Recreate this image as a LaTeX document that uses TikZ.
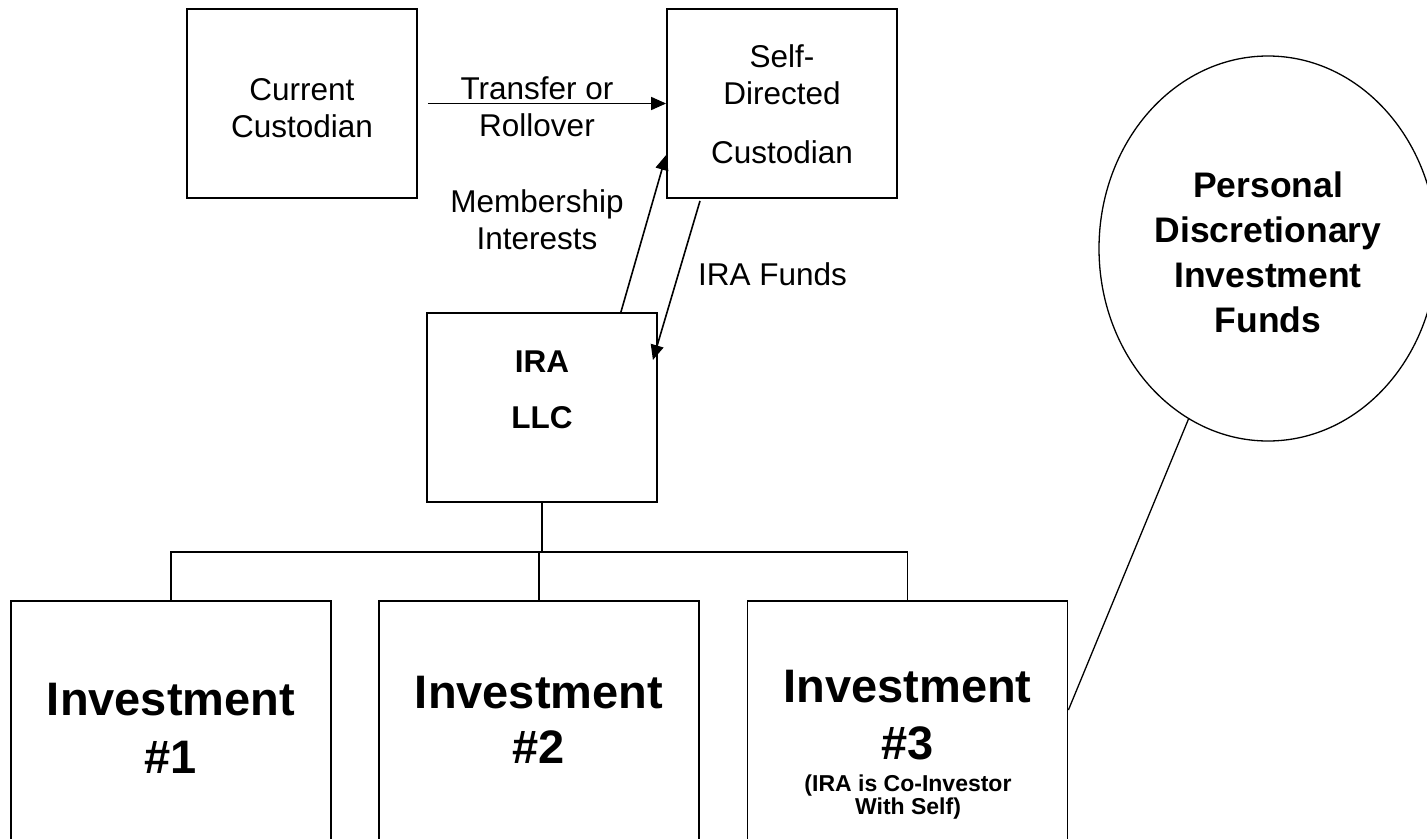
\documentclass[tikz,border=0pt]{standalone}
\usepackage{fontspec}
\setmainfont{Liberation Sans}
\usetikzlibrary{arrows.meta,shapes.geometric,calc}
\begin{document}
\begin{tikzpicture}[x=1pt,y=-1pt,
  box/.style={draw,line width=1.8pt,inner sep=0pt,align=center,rectangle},
  reg/.style={font=\fontsize{31.5}{37}\selectfont},
  bld/.style={font=\fontsize{31.5}{37}\selectfont\bfseries},
  inv/.style={font=\fontsize{47}{54}\selectfont\bfseries},
  arr/.style={line width=1.6pt,-{Triangle[length=15pt,width=13pt]}},
  conn/.style={line width=1.6pt},
]
\clip (0,0) rectangle (1427,838);
\fill[white] (0,0) rectangle (1427,838);

\node[box,reg,minimum width=230pt,minimum height=189pt,text height=80pt,text depth=13pt] (cur) at (302,103.5) {Current\\Custodian};
\node[box,reg,minimum width=230pt,minimum height=189pt,text height=130pt,text depth=11pt] (sdc) at (782,103.5) {Self-\\Directed\\[22pt]Custodian};
\node[box,bld,minimum width=230pt,minimum height=189pt,text height=70pt,text depth=29pt] (ira) at (542,407.5) {IRA\\[19pt]LLC};

\node[box,inv,minimum width=320pt,minimum height=249pt,text height=110pt,text depth=15pt] (inv1) at (171,725.5) {Investment\\[4pt]\#1};
\node[box,inv,minimum width=320pt,minimum height=249pt,text height=95pt,text depth=20pt] (inv2) at (539,725.5) {Investment\\[1pt]\#2};
\node[box,inv,minimum width=320pt,minimum height=249pt,text height=90pt,text depth=23pt] (inv3) at (907.5,725.5) {Investment\\[3pt]\#3};
\node[font=\fontsize{23}{23}\selectfont\bfseries,align=center,inner sep=0pt,text height=36pt,text depth=8pt] (note) at (908,800) {(IRA is Co-Investor\\With Self)};

\node[draw,ellipse,line width=1.3pt,minimum width=338pt,minimum height=385pt,inner sep=0pt,align=center,
      font=\fontsize{35.5}{45}\selectfont\bfseries,text height=180pt,text depth=13pt] (pdf) at (1268,248.5)
      {Personal\\Discretionary\\Investment\\Funds};

\draw[arr,shorten <=10pt] (cur.east) -- (sdc.west)
  node[pos=0.5,anchor=base,yshift=4pt,xshift=-5pt,reg,inner sep=0pt] (tr) {Transfer or}
  node[pos=0.5,anchor=base,yshift=-33pt,xshift=-5pt,reg,inner sep=0pt] (ro) {Rollover};

\draw[arr] ([xshift=-37pt]ira.north east) -- ([yshift=-51.5pt]sdc.west);
\node[reg,align=center,inner sep=0pt,text height=50pt,text depth=12pt] (mem) at (537,230) {Membership\\Interests};
\draw[arr] ([xshift=-82pt,yshift=-2pt]sdc.south) -- ([xshift=-5pt,yshift=47.5pt]ira.east);
\node[reg,anchor=base west,inner sep=0pt] (funds) at (698,285) {IRA Funds};

\coordinate (bus) at (542,552);
\draw[conn] (ira.south) -- (ira.south |- bus);
\draw[conn] (inv1.north) -- (inv1.north |- bus) -- (inv3.north |- bus) -- (inv3.north);
\draw[conn] (inv2.north) -- (inv2.north |- bus);

\draw[line width=1.3pt] (pdf.245.67) -- ([yshift=15.5pt]inv3.east);
\end{tikzpicture}
\end{document}
